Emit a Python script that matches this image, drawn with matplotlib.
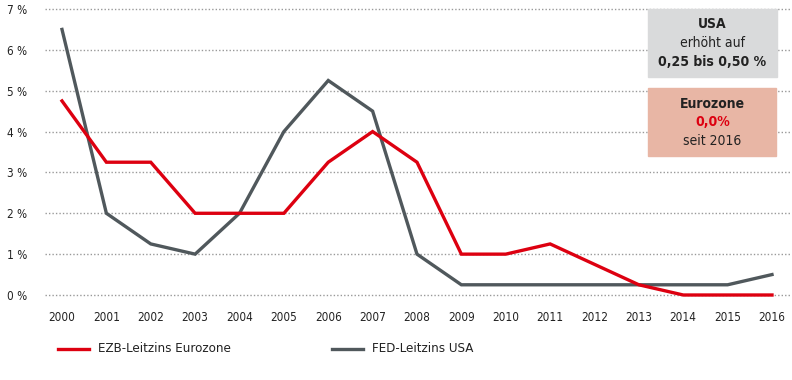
import matplotlib
matplotlib.use("Agg")
import matplotlib.pyplot as plt
from matplotlib.patches import Rectangle
from matplotlib.lines import Line2D
from matplotlib import font_manager

years = list(range(2000, 2017))
ezb = [4.75, 3.25, 3.25, 2.0, 2.0, 2.0, 3.25, 4.0, 3.25, 1.0, 1.0, 1.25, 0.75, 0.25, 0.0, 0.0, 0.0]
fed = [6.5, 2.0, 1.25, 1.0, 2.0, 4.0, 5.25, 4.5, 1.0, 0.25, 0.25, 0.25, 0.25, 0.25, 0.25, 0.25, 0.5]
yticks = [0, 1, 2, 3, 4, 5, 6, 7]
ytick_labels = [f"{v} %" for v in yticks]
legend_labels = ["EZB-Leitzins Eurozone", "FED-Leitzins USA"]

RED = "#dd0010"
GRAY = "#50585c"
TXT = "#222222"

names = {f.name for f in font_manager.fontManager.ttflist}
stretch = "normal"
if "Liberation Sans Narrow" in names:
    FONT = ["Liberation Sans Narrow", "DejaVu Sans"]
elif any(f.name == "DejaVu Sans" and f.stretch == "condensed" for f in font_manager.fontManager.ttflist):
    FONT = ["DejaVu Sans"]
    stretch = "condensed"
else:
    FONT = ["Roboto", "DejaVu Sans"]
plt.rcParams["font.family"] = FONT
plt.rcParams["font.stretch"] = stretch

W, H = 792, 380
fig = plt.figure(figsize=(W / 100, H / 100), dpi=100)

def fx(px):
    return px / W

def fy(py):
    return 1 - py / H

ax = fig.add_axes([fx(45), fy(300), fx(792) - fx(45), fy(5) - fy(300)])
ppy = (772 - 62) / 16.0
ax.set_xlim(2000 - (62 - 45) / ppy, 2016 + (792 - 772) / ppy)
ppv = (295 - 9) / 7.0
ax.set_ylim(0 - (300 - 295) / ppv, 7 + (9 - 5) / ppv)

for v in yticks:
    ax.axhline(v, color="#999999", lw=1.0, ls=(0, (1, 1.5)), zorder=1)

ax.plot(years, fed, color=GRAY, lw=2.4, zorder=3, solid_joinstyle="miter")
ax.plot(years, ezb, color=RED, lw=2.4, zorder=4, solid_joinstyle="miter")

for s in ax.spines.values():
    s.set_visible(False)
ax.set_yticks(yticks)
ax.set_yticklabels(ytick_labels)
ax.set_xticks(years)
ax.set_xticklabels([str(y) for y in years])
ax.tick_params(axis="both", length=0, colors=TXT)
ax.tick_params(axis="y", pad=13, labelsize=8.5)
ax.tick_params(axis="x", pad=8, labelsize=8.5)

fig.patches.append(Rectangle((fx(648), fy(77)), fx(777) - fx(648), fy(9) - fy(77),
                             transform=fig.transFigure, color="#d9dadb", zorder=0))
fig.patches.append(Rectangle((fx(648), fy(156)), fx(776) - fx(648), fy(88) - fy(156),
                             transform=fig.transFigure, color="#e8b6a5", zorder=0))
cx = fx(712.5)
fb = 10
fn = 10
fig.text(cx, fy(24), "USA", ha="center", va="center", fontsize=fb, fontweight="bold", color=TXT)
fig.text(cx, fy(43), "erhöht auf", ha="center", va="center", fontsize=fn, color=TXT)
fig.text(cx, fy(62), "0,25 bis 0,50 %", ha="center", va="center", fontsize=fb, fontweight="bold", color=TXT)
fig.text(cx, fy(104), "Eurozone", ha="center", va="center", fontsize=fb, fontweight="bold", color=TXT)
fig.text(cx, fy(122), "0,0%", ha="center", va="center", fontsize=fb, fontweight="bold", color=RED)
fig.text(cx, fy(141), "seit 2016", ha="center", va="center", fontsize=fn, color=TXT)

for (x0, col, lab) in [(58, RED, legend_labels[0]), (332, GRAY, legend_labels[1])]:
    fig.lines.append(Line2D([fx(x0), fx(x0 + 31)], [fy(349), fy(349)], transform=fig.transFigure,
                            color=col, lw=2.4))
    fig.text(fx(x0 + 40), fy(349), lab, ha="left", va="center", fontsize=9.5, color=TXT)

fig.savefig("out.png", dpi=100)
